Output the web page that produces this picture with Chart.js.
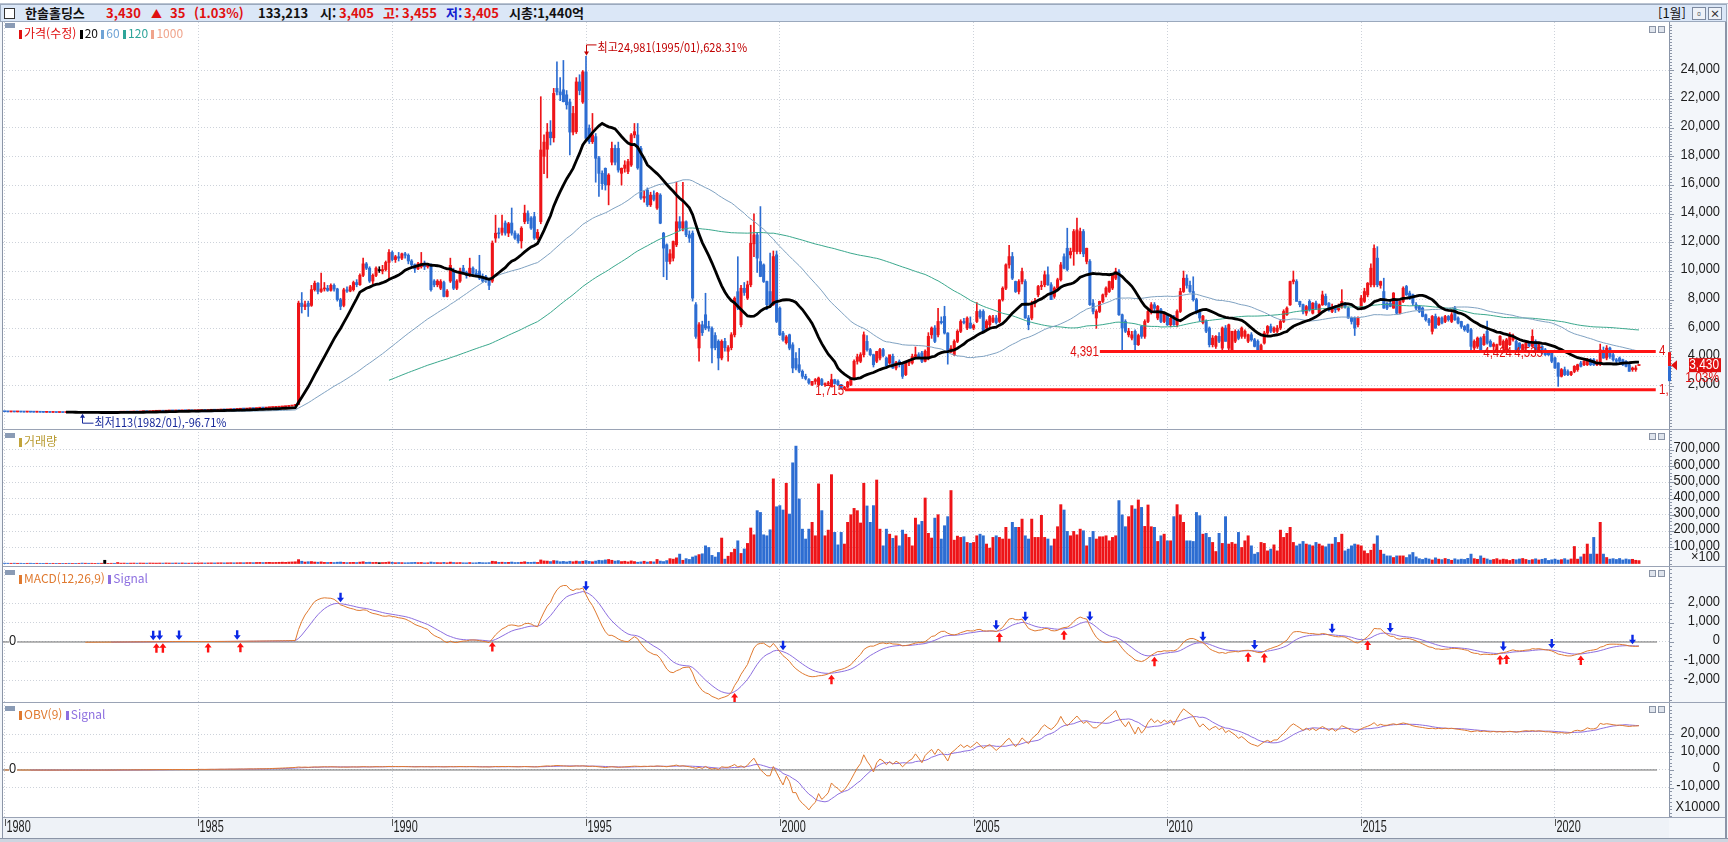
<!DOCTYPE html>
<html lang="ko"><head><meta charset="utf-8"><title>한솔홀딩스</title>
<script src="https://cdn.jsdelivr.net/npm/chart.js@4.4.1/dist/chart.umd.min.js"></script>
<style>
*{box-sizing:border-box}
html,body{margin:0;padding:0;width:1728px;height:842px;overflow:hidden;background:#f3f6fa;font-family:"Noto Sans CJK KR","Noto Sans",sans-serif;}
.a{position:absolute;white-space:nowrap;}
canvas{position:absolute;display:block;}
#tabs{left:0;top:0;width:1728px;height:4px;background:#fff;border-bottom:1px solid #b9c3d1;}
#hdr{left:0;top:4px;width:1727px;height:18px;background:#dbe7f7;border:1px solid #9ba9bd;}
.h{top:5px;font-size:13px;font-weight:bold;line-height:16px;color:#111;}
.lg{font-size:12px;line-height:14px;color:#111;}
.sw{display:inline-block;width:3px;height:9px;margin-right:2px;vertical-align:-1px;}
.ic{width:10px;height:5px;background:#8a9bb5;}
.hl{background:#9aa3b5;height:1px;left:2px;width:1724px;}
.vl{background:#8b95a7;width:1px;}
.btn{width:7px;height:7px;border:1px solid #8a94a6;background:#dfe4ec;}
.hb{width:14px;height:13px;border:1px solid #7d8aa0;background:#eef2f8;font-size:10px;line-height:11px;text-align:center;font-weight:bold;color:#333;}
</style></head><body>
<canvas id="cPrice" width="1723" height="407" style="left:3px;top:22px"></canvas>
<canvas id="cVol" width="1723" height="137" style="left:3px;top:429px"></canvas>
<canvas id="cMacd" width="1723" height="136" style="left:3px;top:566px"></canvas>
<canvas id="cObv" width="1723" height="136" style="left:3px;top:702px"></canvas>

<div id="tabs" class="a"></div>
<div id="hdr" class="a"></div>
<div class="a" style="left:4px;top:8px;width:11px;height:11px;border:1px solid #333;background:#fff"></div>
<div class="a h" style="left:25px">한솔홀딩스</div>
<div class="a h" style="left:106px;color:#e01010">3,430</div>
<div class="a h" style="left:151px;color:#e01010;font-size:11px">▲</div>
<div class="a h" style="left:170px;color:#e01010">35</div>
<div class="a h" style="left:194px;color:#e01010">(1.03%)</div>
<div class="a h" style="left:258px">133,213</div>
<div class="a h" style="left:320px">시:</div>
<div class="a h" style="left:339px;color:#e01010">3,405</div>
<div class="a h" style="left:383px;color:#e01010">고:</div>
<div class="a h" style="left:402px;color:#e01010">3,455</div>
<div class="a h" style="left:446px;color:#1020d0">저:</div>
<div class="a h" style="left:464px;color:#e01010">3,405</div>
<div class="a h" style="left:509px">시총:1,440억</div>
<div class="a h" style="left:1658px;font-weight:normal">[1월]</div>
<div class="a hb" style="left:1692px;top:7px">▫</div>
<div class="a hb" style="left:1708px;top:7px">×</div>

<!-- panel legends -->
<div class="a ic" style="left:5px;top:23px"></div>
<div class="a lg" style="left:19px;top:26px"><span class="sw" style="background:#e01010"></span><span style="color:#e01010">가격(수정)</span> <span class="sw" style="background:#000"></span><span>20</span> <span class="sw" style="background:#6fa3d6"></span><span style="color:#6fa3d6">60</span> <span class="sw" style="background:#2ea59a"></span><span style="color:#2ea59a">120</span> <span class="sw" style="background:#f0a48c"></span><span style="color:#f0a48c">1000</span></div>
<div class="a ic" style="left:5px;top:433px"></div>
<div class="a lg" style="left:19px;top:434px"><span class="sw" style="background:#c2a43a"></span><span style="color:#b89a30">거래량</span></div>
<div class="a ic" style="left:5px;top:570px"></div>
<div class="a lg" style="left:19px;top:571px"><span class="sw" style="background:#e07a30"></span><span style="color:#e07a30">MACD(12,26,9)</span> <span class="sw" style="background:#8d6fe0"></span><span style="color:#8d6fe0">Signal</span></div>
<div class="a ic" style="left:5px;top:706px"></div>
<div class="a lg" style="left:19px;top:707px"><span class="sw" style="background:#e07a30"></span><span style="color:#e07a30">OBV(9)</span> <span class="sw" style="background:#8d6fe0"></span><span style="color:#8d6fe0">Signal</span></div>

<div class="a btn" style="left:1649px;top:26px"></div><div class="a btn" style="left:1658px;top:26px"></div>
<div class="a btn" style="left:1649px;top:433px"></div><div class="a btn" style="left:1658px;top:433px"></div>
<div class="a btn" style="left:1649px;top:570px"></div><div class="a btn" style="left:1658px;top:570px"></div>
<div class="a btn" style="left:1649px;top:706px"></div><div class="a btn" style="left:1658px;top:706px"></div>

<div class="a hl" style="top:429px"></div>
<div class="a hl" style="top:566px"></div>
<div class="a hl" style="top:702px"></div>
<div class="a hl" style="top:817px"></div>
<div class="a" style="left:0;top:838px;width:1728px;height:4px;background:#cdd5e0;border-top:1px solid #8b95a7"></div>
<div class="a vl" style="left:2px;top:22px;height:816px"></div>
<div class="a vl" style="left:1725px;top:22px;height:816px;width:2px"></div>
<div id="warn" class="a" style="left:700px;top:300px;color:#f0f;font-size:20px"></div>

<script>
// ---------------- DATA (monthly, from 1980-01) ----------------
const startYear = 1980;
const yearTickIdx = [0, 60, 120, 180, 240, 300, 360, 420, 480];
const yearLabels = ['1980','1985','1990','1995','2000','2005','2010','2015','2020'];

// [open, high, low, close]  (adjusted price, won)
const ohlc1980s = [
 [182,186,178,180],[180,182,169,171],[171,178,170,176],[176,177,166,168],[168,172,166,170],[170,171,160,162],[162,164,156,158],[158,165,157,163],[163,164,152,154],[154,156,148,150],[150,154,149,152],[152,153,141,143],
 [143,144,137,139],[139,143,138,141],[141,142,132,134],[134,138,133,136],[136,137,127,129],[129,133,128,131],[131,132,123,125],[125,129,124,127],[127,128,119,121],[121,126,120,124],[124,125,115,117],[117,121,116,119],
 [119,120,113,113],[113,120,113,118],[118,119,114,116],[116,124,115,122],[122,128,121,126],[126,127,122,124],[124,133,123,131],[131,135,128,131],[131,139,130,137],[137,143,136,141],[141,142,137,139],[139,150,138,148],
 [148,153,147,151],[151,160,150,158],[158,159,153,155],[155,168,154,166],[166,173,165,171],[171,172,167,169],[169,186,168,184],[184,192,183,190],[190,191,184,186],[186,205,185,203],[203,213,202,211],[211,218,209,216],
 [216,225,215,223],[223,224,217,219],[219,237,218,235],[235,243,234,241],[241,242,236,238],[238,251,237,249],[249,250,244,246],[246,259,245,257],[257,258,249,251],[251,255,250,253],[253,254,247,249],[249,262,248,260],
 [260,265,259,263],[263,276,262,274],[274,275,269,271],[271,285,270,283],[283,291,282,289],[289,290,284,286],[286,303,285,301],[301,316,300,314],[314,315,307,309],[309,329,308,327],[327,344,326,342],[342,343,336,338],
 [338,357,337,355],[355,373,354,371],[371,372,366,368],[368,394,367,392],[392,407,391,405],[405,406,397,399],[399,430,398,428],[428,443,427,441],[441,442,435,437],[437,464,436,462],[462,481,461,479],[479,490,478,488],
 [488,499,487,497],[497,517,496,515],[515,536,514,534],[534,554,533,552],[552,581,551,579],[579,613,578,611],[611,692,610,690],[690,7900,680,7760],[7760,8500,7070,7520],[7520,7900,7300,7650],[7750,7900,6830,7530],[7600,9000,7530,8700],
 [8700,9300,8600,9150],[9150,9200,8400,8580],[8580,9850,8500,8750],[8750,9200,8600,8800],[8800,9000,8580,8650],[8650,9100,8600,9000],[9000,9100,8600,8750],[8750,8800,7900,8000],[8000,8100,7300,7530],[7600,8800,7500,8690],[8690,8900,8500,8600],[8600,9000,8550,8900],
 [8700,9300,8600,9200],[9200,9400,8900,9050],[9050,9800,9000,9700],[9700,10900,9600,10500],[10500,10600,10100,10200],[10200,10300,9200,9300],[9300,9800,9100,9700],[9700,10300,9600,10200],[10100,10300,9900,10100],[10000,10400,9800,10100],[10100,10700,10000,10600],[10600,11500,9400,11300]
];
const ohlc1990s = [
 [11300,11400,10700,10800],[10800,11100,10600,11000],[11000,11300,10700,10900],[10900,11250,10800,11200],[11200,11300,10900,11100],[11100,11200,10500,10700],[10700,10800,10200,10450],[10450,10500,9900,10150],[10150,10600,10100,10500],[10300,11300,10200,10550],[10550,10700,10100,10300],[10300,10500,10200,10400],
 [10400,10500,8600,8700],[9300,9400,8900,9040],[9040,9400,8900,9300],[8800,9400,8700,9270],[9200,9300,8200,8230],[8230,8700,8200,8600],[9300,10900,9200,10400],[10000,10200,8700,8800],[8800,9400,8700,9300],[9300,10200,9200,10000],[10200,10400,9800,9900],[9900,10000,9500,9700],
 [9700,10900,9600,10200],[10200,10300,9700,9850],[9850,10100,9600,9700],[10000,11100,9400,9500],[9500,9800,9200,9300],[9600,9700,9200,9350],[9350,9500,8700,9000],[9300,12100,9200,11950],[12300,13900,12000,12640],[12640,13000,12300,12600],[12700,13900,12500,13000],[13350,13500,12500,12650],
 [12650,13400,12400,13300],[13350,14400,12500,12650],[12650,12800,12200,12300],[12500,12600,11950,12100],[12100,13100,11600,12990],[13450,14600,13300,14040],[14040,14200,13300,13500],[13700,13800,12900,13000],[13800,14100,12200,12300],[12300,12900,12200,12700],[13450,22170,13300,18450],[18000,19500,16800,19000],
 [18500,20300,16500,19700],[19700,20500,18800,19300],[19300,22750,19000,22400],[22750,24600,22300,22500],[22500,23500,21900,22300],[22650,24700,21800,21820],[22300,22600,21300,21600],[21800,22000,18100,19700],[19700,21500,19500,21000],[19730,23500,19600,23200],[23200,23700,22300,22600],[21800,24000,21700,23900],
 [23900,24981,19200,19260],[19960,20200,18900,19030],[19030,21000,18900,19500],[19380,19600,16200,17870],[17900,18000,15200,16820],[16820,17000,15700,16100],[17170,17200,15650,16010],[16010,16800,14620,16700],[17600,19000,17400,18560],[18560,18800,17400,17600],[18560,19000,16900,17050],[16820,17200,16000,17170],
 [17170,17700,16900,17400],[16950,17800,16800,17640],[17400,19600,17300,19500],[19500,20300,19300,19730],[19500,20300,17100,17200],[18560,18700,15000,15100],[15100,15600,14800,15200],[15660,15800,14500,14620],[14620,15500,14500,15300],[15300,15600,14900,15000],[14400,15500,14300,15430],[15300,15400,13300,13340],
 [12640,12700,9600,11600],[11830,11900,9400,10670],[10670,11500,10500,11200],[10900,12100,10700,12060],[11830,16200,11700,13440],[13440,13800,12800,13000],[12990,16200,12800,13440],[13440,13500,12400,12530],[12530,12800,12000,12300],[12640,12800,7900,8110],[7650,7800,5300,5440],[4630,6400,3700,6250],
 [6250,6500,5500,5700],[6950,8450,5900,6020],[6130,6500,5800,6000],[6000,6100,3580,4630],[5500,5700,4500,4650],[5090,5200,3100,3930],[3930,5200,3800,5090],[5090,5300,4400,4650],[4400,4800,3700,4650],[4650,5700,4500,5550],[5550,8200,5400,8100],[8560,11000,7300,7410],
 [6250,9000,6100,8800],[8800,9200,8300,8500],[8110,9300,8000,9040],[9040,13200,8900,11940],[11900,14000,11000,12520],[12520,12700,9900,10900],[10660,14500,9600,9620],[10430,10500,9200,9270],[9270,9300,7300,7650],[8570,11250,7500,7650],[7650,11400,7600,11010],[11130,11400,6400,6480]
];
const ohlc2000s = [
 [7410,7500,5500,5550],[5670,5800,5100,5200],[5000,5500,4900,5400],[5550,5600,4500,4620],[4850,5000,2900,3230],[3900,4300,3100,3230],[3460,4600,2900,3000],[3000,3100,2500,2650],[2650,2800,2400,2500],[2420,2500,2100,2190],[2070,2300,2000,2300],[2300,2500,2100,2420],
 [2070,2600,2000,2530],[2420,2500,2000,2070],[2070,2200,1950,2100],[2100,2300,2000,2200],[1950,2800,1900,2420],[2420,2450,2100,2150],[2300,2400,2000,2070],[2070,2100,1750,1800],[1800,1950,1715,1900],[1900,2300,1850,2250],[2070,2500,2000,2530],[2530,3800,2500,3700],
 [3700,4200,3500,4000],[3700,4300,3600,4160],[4160,5750,4000,5550],[5090,5500,4400,4510],[4510,4600,4100,4160],[4160,4200,3300,3460],[3700,4400,3600,4390],[3930,4600,3800,4510],[4510,4600,4000,4100],[3930,4000,3200,3350],[3580,4100,3500,4160],[4040,4200,3200,3230],
 [3230,3700,3100,3600],[3700,3800,3300,3460],[3460,3500,2500,2650],[2770,3600,2700,3580],[3580,3800,3400,3700],[3580,4200,3500,4040],[4040,4700,3900,4160],[4160,4300,3900,4000],[4280,4400,3600,3700],[3700,4500,3650,4400],[3930,5700,3800,5440],[5550,6100,5300,6020],
 [6020,6200,5000,5090],[5550,7400,5400,6480],[6480,6800,6300,6400],[6830,7540,5600,5670],[5670,5700,3500,4390],[4390,4800,4300,4600],[4160,5200,4100,5090],[5090,5900,5000,5790],[5790,6600,5700,6480],[6480,6700,6300,6400],[6020,6800,5900,6710],[6370,6800,6000,6020],
 [6020,6300,5900,6200],[6480,7800,6400,7180],[7180,7300,6700,6800],[7180,7300,5700,5790],[6020,6600,5900,6480],[6250,6900,6100,6830],[6480,6900,6400,6720],[6720,6900,6300,6400],[6480,8000,6400,7990],[7990,8900,7900,8800],[8800,10500,8700,10430],[10430,11800,10200,11010],
 [11010,11300,9400,9500],[9270,9300,8500,8570],[8570,9400,8400,9270],[9270,10200,9100,9960],[9270,9400,6700,6720],[6720,6900,5900,6250],[6720,7900,6600,7760],[7760,8100,7500,7900],[8340,9000,8200,8920],[8920,9300,8700,9000],[9040,10000,8900,9740],[9740,10300,9000,9040],
 [9040,9200,8000,8000],[8230,8900,8100,8810],[8810,9500,8700,9390],[9390,10600,9300,10430],[11000,11200,10150,10200],[11590,12990,10000,10100],[11130,11600,10900,11360],[11360,12900,10400,12760],[11360,13690,11200,12870],[11360,13000,11200,12760],[12760,12900,11000,11200],[10670,11600,10500,11590],
 [10670,10800,7600,7650],[7760,8000,7000,7180],[6720,7300,6000,7180],[7180,7900,7100,7880],[7880,8400,7800,8340],[8340,8900,8200,8810],[8570,9300,8500,9270],[8810,9800,8700,9740],[9500,10200,9400,9970],[9970,10100,6900,6950],[6950,7000,4390,6020],[6480,6600,5700,5790],
 [5550,6000,5400,5800],[5320,5800,5200,5550],[5790,5900,4391,4860],[4860,5600,4800,5500],[6130,6200,5300,5440],[5440,6600,5300,6480],[6480,7400,6400,7180],[7180,7800,7000,7650],[7650,7800,7200,7400],[6720,7600,6600,7530],[7300,7400,6400,6480],[6480,7100,6400,7060]
];
const ohlc2010s = [
 [6950,7000,6200,6250],[6250,6800,6100,6700],[6830,6900,6200,6250],[6250,7300,6100,7180],[7180,8800,7100,8570],[8570,10000,8500,9500],[9500,9740,8800,9000],[9000,9300,8500,8570],[8570,9600,7900,8000],[8000,8100,7000,7180],[7180,7300,6500,6720],[6400,6900,6300,6850],
 [6480,6600,5700,5800],[6020,6100,4700,4860],[4860,5500,4700,5320],[4740,5500,4600,5440],[5440,5700,5000,5100],[4620,6100,4500,6020],[6020,6200,5100,5090],[4620,6300,4400,6250],[4390,5800,4390,5800],[5100,5900,5000,5790],[5790,5900,5200,5300],[5440,6100,5300,6020],
 [5440,5900,5300,5800],[5100,5600,5000,5550],[5550,5700,5100,5200],[5200,5300,4700,4740],[5090,5200,4400,4510],[4510,4900,4391,4800],[4970,5800,4900,5670],[5670,6200,5500,6130],[6130,6300,5700,5800],[5790,6100,5700,6020],[5790,6200,5700,6020],[6020,6600,5900,6480],
 [6480,7300,6400,7180],[6950,7500,6900,7410],[7640,9300,7600,9270],[9270,10000,9100,9380],[9270,9400,7900,7880],[7880,7900,7500,7650],[7650,7700,7000,7180],[7060,7600,6900,7520],[7880,8000,7200,7300],[7060,7800,7000,7760],[7760,7900,7300,7400],[7060,7700,6900,7640],
 [7640,8600,7600,8340],[8230,8400,7600,7650],[7760,7800,7200,7300],[7180,7700,7100,7410],[7410,7600,7100,7300],[7300,7700,7200,7530],[7530,8700,7400,7880],[7650,7800,7400,7530],[7410,7500,6700,6720],[6720,6800,6300,6480],[6720,6800,5500,6020],[6250,6800,6100,6710],
 [7400,8300,7300,8110],[7880,8800,7800,8570],[8340,9200,8200,9150],[9040,10500,8900,10200],[9040,11830,8900,11590],[10900,11700,8900,9040],[9000,9300,8800,9270],[8570,9500,7400,7410],[7760,7800,7300,7410],[7760,7900,7500,7530],[7410,8500,7400,8460],[7880,8000,7000,7060],
 [7060,7900,7000,7880],[7880,8900,7800,8800],[8920,9000,8300,8340],[8460,8600,8000,8110],[8340,8400,7600,7760],[7650,7800,7300,7410],[7530,7600,7100,7180],[7410,7500,6800,6830],[6950,7000,6500,6600],[6600,6700,6200,6400],[5790,6900,5600,6830],[6830,7000,6000,6020],
 [6250,6800,6200,6720],[6720,6800,6300,6370],[6480,6900,6400,6830],[6830,6900,6500,6600],[6480,7100,6400,6950],[7410,7530,6550,6600],[6720,6800,6300,6370],[6480,6500,6000,6130],[6130,6200,5800,5900],[6250,6300,5700,5790],[5900,6000,4500,4740],[4630,5200,4500,5090],
 [4740,5400,4600,5320],[5320,5400,4500,4510],[4860,5600,4800,5440],[5790,6500,4900,4970],[5090,5200,4700,4740],[4740,5000,4500,4900],[4510,4900,4400,4860],[4860,5500,4800,5440],[4630,5200,4500,5090],[4510,5300,4400,5200],[4860,5700,4800,5550],[5200,5600,5100,5440],
 [5090,5200,4380,4390],[4970,5000,4500,4620],[4390,4900,4300,4860],[4620,5100,4500,4970],[4970,5100,4700,4800],[4740,5900,4700,5440],[5090,5200,4400,4510],[4510,4900,4400,4860],[4740,4800,4200,4280],[4500,4600,4100,4160],[4390,4400,4100,4160],[4280,4350,3600,3700]
];
const ohlc2020s = [
 [3930,4000,3200,3230],[3580,3600,1950,2650],[2650,3200,2600,3120],[3120,3300,2700,2770],[2990,3100,2700,2770],[2770,3000,2700,2950],[2990,3400,2900,3350],[3120,3500,3000,3460],[3580,3700,3300,3350],[3460,3750,3400,3700],[3460,3900,3400,3800],[3810,3900,3400,3460],
 [3810,3900,3400,3460],[3460,3800,3400,3580],[3460,4900,3400,4500],[4280,4700,3900,3930],[3930,4800,3800,4620],[4620,4700,3900,4040],[4160,4300,3700,3810],[3810,3900,3600,3700],[3930,4000,3600,3700],[3810,3850,3400,3460],[3700,3750,3300,3350],[3460,3500,3000,3000],
 [3120,3300,3000,3230],[3120,3400,3000,3230],[3405,3455,3405,3430]
];

// volume (axis units, x100 shares)
const vol1980s = [
 2100,1800,1500,1900,1300,1600,1200,1400,1700,1100,1500,1300,
 1200,1500,1000,1300,1100,900,1200,1000,1400,800,1100,1300,
 2500,1800,1400,1600,1200,1500,1700,20000,1100,1600,1400,6000,
 2200,2600,1900,2400,2800,2100,3000,2500,2300,3100,2700,2400,
 2900,2500,3300,2800,2600,3100,2700,3400,2500,2300,2900,3200,
 3300,3800,3100,3600,4000,3500,4200,4600,3900,4400,5000,4300,
 4800,5300,4700,5600,6000,5200,6400,6900,5800,6600,7200,6100,
 6800,7500,8200,7100,8800,9500,10500,24000,14000,9000,11000,12000,
 9000,8000,10000,7000,6500,7500,6000,8000,9000,7000,5500,6500,
 7000,6000,8500,11000,7000,8000,6500,7500,5000,6000,7000,9500
];
const vol1990s = [
 7500,5000,6000,5500,4500,5000,6000,7000,5500,6500,4000,4500,
 9000,6000,5500,5000,7000,4500,8500,6000,5000,6000,4500,4000,
 6000,4000,4500,7000,5000,4500,5500,14000,12000,7000,8000,6500,
 7000,9000,6000,6500,8000,11000,7500,7000,8500,6500,22000,16000,
 15000,12000,18000,16000,11000,13000,10000,14000,11000,15000,12000,14000,
 18000,13000,11000,15000,20000,18000,22000,25000,20000,15000,18000,12000,
 14000,10000,16000,12000,8000,10000,14000,9000,12000,10000,25000,15000,
 12000,18000,30000,27000,35000,58000,20000,30000,25000,40000,47000,55000,
 60000,109000,99000,50000,40000,68000,157000,27000,45000,68000,89000,140000,
 62000,90000,124000,219000,177000,326000,315000,177000,171000,208000,522000,350000
];
const vol2000s = [
 357000,330000,495000,305000,621000,724000,398000,212000,151000,212000,254000,171000,
 491000,326000,171000,206000,548000,192000,115000,192000,120000,254000,301000,340000,
 326000,250000,495000,355000,254000,357000,515000,212000,109000,212000,181000,155000,
 171000,109000,206000,181000,161000,109000,280000,239000,260000,404000,186000,157000,
 280000,301000,151000,233000,289000,450000,144000,169000,161000,165000,130000,125000,
 130000,171000,181000,171000,120000,95000,161000,171000,161000,151000,223000,151000,
 254000,223000,223000,274000,171000,151000,274000,161000,161000,297000,161000,151000,
 109000,151000,227000,363000,330000,198000,171000,198000,177000,212000,202000,109000,
 161000,198000,151000,165000,165000,171000,140000,161000,171000,388000,300000,227000,
 289000,357000,336000,392000,346000,229000,361000,227000,223000,136000,171000,181000
];
const vol2010s = [
 140000,140000,289000,363000,300000,254000,140000,140000,136000,315000,295000,181000,
 186000,161000,130000,74000,186000,124000,289000,120000,130000,120000,192000,99000,
 140000,171000,109000,58000,68000,130000,124000,78000,89000,115000,78000,206000,
 161000,186000,223000,130000,109000,120000,136000,120000,115000,109000,130000,120000,
 109000,103000,120000,120000,161000,130000,181000,78000,89000,109000,120000,115000,
 109000,78000,62000,82000,120000,171000,82000,58000,47000,47000,37000,47000,
 47000,47000,37000,54000,68000,41000,30000,25000,33000,28000,22000,35000,
 27000,24000,31000,26000,20000,29000,23000,27000,25000,32000,58000,30000,
 26000,47000,33000,28000,21000,25000,30000,22000,27000,24000,19000,26000,
 23000,28000,31000,25000,20000,24000,29000,22000,26000,31000,19000,23000
];
const vol2020s = [
 27000,21000,24000,30000,22000,28000,105000,27000,41000,58000,120000,58000,
 161000,58000,254000,58000,37000,27000,30000,25000,31000,22000,28000,24000,
 26000,20000,18000
];

// MACD signal arrows (month index)
const macdSellIdx = [46,48,54,72,104,180,241,307,316,336,371,387,411,429,464,479,504];
const macdBuyIdx  = [47,49,63,73,151,226,256,308,328,356,385,390,422,463,465,488];

// horizontal support lines and labels
const supportLines = [ {value:1715, from:260.2, label:'1,715'}, {value:4391, from:339.1, label:'4,391'} ];
const highPoint = {idx:180, value:24981, text:'최고24,981(1995/01),628.31%'};
const lowPoint  = {idx:24,  value:113,   text:'최저113(1982/01),-96.71%'};
const lastPrice = {value:3430, text:'3,430', pct:'1.03%'};

// ---------------- BUILD ----------------
const ohlc = [].concat(ohlc1980s, ohlc1990s, ohlc2000s, ohlc2010s, ohlc2020s);
const volume = [].concat(vol1980s, vol1990s, vol2000s, vol2010s, vol2020s);
const N = ohlc.length;
const warn = [];
if (ohlc1980s.length!==120) warn.push('80s '+ohlc1980s.length);
if (ohlc1990s.length!==120) warn.push('90s '+ohlc1990s.length);
if (ohlc2000s.length!==120) warn.push('00s '+ohlc2000s.length);
if (ohlc2010s.length!==120) warn.push('10s '+ohlc2010s.length);
if (volume.length!==N) warn.push('vol '+volume.length+' vs '+N);
document.getElementById('warn').textContent = warn.join(' | ');

const idx = Array.from({length:N},(_,i)=>i);
const O = ohlc.map(c=>c[0]), H = ohlc.map(c=>c[1]), L = ohlc.map(c=>c[2]), C = ohlc.map(c=>c[3]);
const RED = '#ee1418', BLUE = '#2d6dd2';
const col = idx.map(i => C[i]>O[i] ? RED : (C[i]<O[i] ? BLUE : '#000'));

function sma(a,n,start){ const out=[]; let s=0; for(let i=0;i<a.length;i++){ s+=a[i]; if(i>=n) s-=a[i-n]; out.push(i>=n-1 && i>=(start||0) ? s/n : null);} return out; }
function ema(a,n){ const k=2/(n+1); const out=[]; let e=a[0]; for(let i=0;i<a.length;i++){ e = i===0 ? a[0] : a[i]*k + e*(1-k); out.push(e);} return out; }
const ma20 = sma(C,20), ma60 = sma(C,60), ma120 = sma(C,120);
const e12 = ema(C,12), e26 = ema(C,26);
const macdRaw = idx.map(i => e12[i]-e26[i]);
const sigRaw = ema(macdRaw,9);
const macd = idx.map(i => i>=25 ? macdRaw[i] : null);
const sig = idx.map(i => i>=33 ? sigRaw[i] : null);
const obv = []; for (let i=0;i<N;i++){ if(i===0){obv.push(0);continue;} const d = C[i]>C[i-1]?1:(C[i]<C[i-1]?-1:0); obv.push(obv[i-1] + d*volume[i]/100); }
const obvSig = sma(obv,9);

const X_MIN = -0.5, X_MAX = 515.3;
const pts = (arr) => idx.map(i => ({x:i, y:arr[i]}));

function narrow(ctx, txt, x, y, align, sx){ ctx.save(); ctx.translate(x,y); ctx.scale(sx,1); ctx.textAlign=align; ctx.fillText(txt,0,0); ctx.restore(); }
const fmt = v => v.toLocaleString('en-US');

function deco(y, extra){ return {
  id:'deco',
  beforeDraw(chart){ const {ctx, chartArea:a} = chart; ctx.save(); ctx.fillStyle='#f3f6fa'; ctx.fillRect(0,0,chart.width,chart.height); ctx.fillStyle='#ffffff'; ctx.fillRect(a.left,a.top,a.right-a.left,a.bottom-a.top); ctx.restore(); },
  afterDraw(chart){
    const {ctx, chartArea:a} = chart; const ys = chart.scales.y;
    ctx.save();
    ctx.strokeStyle='#8a95a8'; ctx.lineWidth=1;
    ctx.beginPath(); ctx.moveTo(a.right+0.5,a.top); ctx.lineTo(a.right+0.5,a.bottom); ctx.stroke();
    ctx.strokeStyle='#8c96a8';
    for (let v=Math.ceil(y.min/y.minor)*y.minor; v<=y.max; v+=y.minor){ const py=Math.round(ys.getPixelForValue(v))+0.5; ctx.beginPath(); ctx.moveTo(a.right,py); ctx.lineTo(a.right+3,py); ctx.stroke(); }
    for (const v of y.ticks){ const py=Math.round(ys.getPixelForValue(v))+0.5; ctx.beginPath(); ctx.moveTo(a.right,py); ctx.lineTo(a.right+5,py); ctx.stroke(); }
    ctx.fillStyle='#1e1e1e'; ctx.font='14px "Liberation Sans"'; ctx.textBaseline='middle';
    for (const v of y.ticks){ narrow(ctx, fmt(v), 1717, ys.getPixelForValue(v)-1.5, 'right', 0.92); }
    if (extra) extra(chart, ctx, a, chart.scales.x, ys);
    ctx.restore();
  }
};}

function makeChart(id, datasets, y, extra, padBottom){
  return new Chart(document.getElementById(id).getContext('2d'), {
    type:'bar',
    data:{datasets},
    options:{
      responsive:false, animation:false, devicePixelRatio:1, events:[],
      layout:{padding:{left:0,right:0,top:0,bottom:padBottom||0}, autoPadding:false},
      plugins:{legend:{display:false}, tooltip:{enabled:false}},
      scales:{
        x:{type:'linear', min:X_MIN, max:X_MAX, offset:false, display:true,
           afterBuildTicks:s=>{ s.ticks = yearTickIdx.map(v=>({value:v})); },
           ticks:{display:false}, grid:{color:'#cdd2da', drawTicks:false, offset:false, lineWidth:1},
           border:{display:false, dash:[1,2]}, afterFit:s=>{ s.height=0; }},
        y:{type:'linear', position:'right', min:y.min, max:y.max, display:true,
           afterBuildTicks:s=>{ s.ticks = y.ticks.map(v=>({value:v})); },
           ticks:{display:false}, grid:{color:'#cdd2da', drawTicks:false, lineWidth:1},
           border:{display:false, dash:[1,2]}, afterFit:s=>{ s.width=57; }}
      }
    },
    plugins:[deco(y, extra)]
  });
}

// ---- price panel
const priceAxis = {min:-1026, max:27383, ticks:[2000,4000,6000,8000,10000,12000,14000,16000,18000,20000,22000,24000], minor:200};
const priceSets = [
  {type:'bar', data: idx.map(i=>({x:i, y:[L[i],H[i]]})), backgroundColor: col, barThickness:1, grouped:false, order:10},
  {type:'bar', data: idx.map(i=>({x:i, y:[O[i],C[i]]})), backgroundColor: col, barThickness:2.4, minBarLength:1, grouped:false, order:9},
  {type:'line', data: pts(ma120), borderColor:'#3aa88d', borderWidth:1, pointRadius:0, tension:0, order:5},
  {type:'line', data: pts(ma60), borderColor:'#7fa2c2', borderWidth:1, pointRadius:0, tension:0, order:4},
  {type:'line', data: pts(ma20), borderColor:'#000000', borderWidth:2.8, pointRadius:0, tension:0, order:3},
];
supportLines.forEach(s => priceSets.push({type:'line', data:[{x:s.from,y:s.value},{x:511.2,y:s.value}], borderColor:'#ff1414', borderWidth:3, pointRadius:0, order:1}));

makeChart('cPrice', priceSets, priceAxis, (chart, ctx, a, xs, ys) => {
  ctx.fillStyle='#e01010'; ctx.font='14px "Liberation Sans"'; ctx.textBaseline='middle';
  supportLines.forEach(s => {
    const px = xs.getPixelForValue(s.from), py = ys.getPixelForValue(s.value);
    narrow(ctx, s.label, px-1, py+1, 'right', 0.82);
    narrow(ctx, s.value===4391?'4':'1,', 1656, py, 'left', 0.82);
  });
  const py4 = ys.getPixelForValue(4391);
  narrow(ctx, '4,424', 1509, py4+1.5, 'right', 0.82);
  narrow(ctx, '4,535', 1540, py4+1.5, 'right', 0.82);
  // high annotation
  let hx = Math.round(xs.getPixelForValue(highPoint.idx))+0.5, hy = ys.getPixelForValue(highPoint.value);
  ctx.strokeStyle='#c00000'; ctx.fillStyle='#c00000'; ctx.lineWidth=1;
  ctx.beginPath(); ctx.moveTo(hx+10, hy-11.5); ctx.lineTo(hx, hy-11.5); ctx.lineTo(hx, hy-4); ctx.stroke();
  ctx.beginPath(); ctx.moveTo(hx-2.5, hy-5); ctx.lineTo(hx+2.5, hy-5); ctx.lineTo(hx, hy-1); ctx.closePath(); ctx.fill();
  ctx.font='12px "Noto Sans CJK KR"'; narrow(ctx, highPoint.text, hx+11, hy-9, 'left', 0.92);
  // low annotation
  let lx = Math.round(xs.getPixelForValue(lowPoint.idx))+0.5, ly = ys.getPixelForValue(lowPoint.value);
  ctx.strokeStyle='#16289a'; ctx.fillStyle='#16289a';
  ctx.beginPath(); ctx.moveTo(lx, ly+3); ctx.lineTo(lx, ly+10.5); ctx.lineTo(lx+11, ly+10.5); ctx.stroke();
  ctx.beginPath(); ctx.moveTo(lx-2.5, ly+5); ctx.lineTo(lx+2.5, ly+5); ctx.lineTo(lx, ly+1); ctx.closePath(); ctx.fill();
  narrow(ctx, lowPoint.text, lx+12, ly+10, 'left', 0.92);
  // last price marker on axis
  const yc = ys.getPixelForValue(lastPrice.value);
  ctx.fillStyle = RED; ctx.fillRect(a.right-1, yc-13, 3, 14); ctx.fillStyle = BLUE; ctx.fillRect(a.right-1, yc+1, 3, 15);
  ctx.fillStyle = '#e01010';
  ctx.beginPath(); ctx.moveTo(a.right+2, yc); ctx.lineTo(a.right+8, yc-5); ctx.lineTo(a.right+8, yc+5); ctx.closePath(); ctx.fill();
  ctx.fillRect(1686, yc-7, 32, 14);
  ctx.fillStyle='#ffffff'; ctx.font='14px "Liberation Sans"'; narrow(ctx, lastPrice.text, 1716, yc, 'right', 0.85);
  ctx.fillStyle='#e01010'; narrow(ctx, lastPrice.pct, 1716, yc+13, 'right', 0.85);
});

// ---- volume panel
const volAxis = {min:-15400, max:829500, ticks:[100000,200000,300000,400000,500000,600000,700000], minor:20000};
makeChart('cVol', [
  {type:'bar', data: idx.map(i=>({x:i, y:volume[i]})), backgroundColor: col, barThickness:2.3, grouped:false}
], volAxis, (chart, ctx, a, xs, ys) => {
  ctx.fillStyle='#1e1e1e'; ctx.font='14px "Liberation Sans"';
  narrow(ctx, '×100', 1717, 128, 'right', 0.92);
});

// ---- MACD panel
const macdAxis = {min:-3117, max:3948, ticks:[-2000,-1000,0,1000,2000], minor:200};
function arrow(ctx, x, y, down, color){
  ctx.fillStyle = color; ctx.beginPath();
  if (down){ ctx.moveTo(x,y); ctx.lineTo(x-3.5,y-4.5); ctx.lineTo(x-1.2,y-4.5); ctx.lineTo(x-1.2,y-9.5); ctx.lineTo(x+1.2,y-9.5); ctx.lineTo(x+1.2,y-4.5); ctx.lineTo(x+3.5,y-4.5); }
  else { ctx.moveTo(x,y); ctx.lineTo(x-3.5,y+4.5); ctx.lineTo(x-1.2,y+4.5); ctx.lineTo(x-1.2,y+9.5); ctx.lineTo(x+1.2,y+9.5); ctx.lineTo(x+1.2,y+4.5); ctx.lineTo(x+3.5,y+4.5); }
  ctx.closePath(); ctx.fill();
}
makeChart('cMacd', [
  {type:'line', data:[{x:X_MIN,y:0},{x:511.6,y:0}], borderColor:'#6c6c6c', borderWidth:1, pointRadius:0, order:5},
  {type:'line', data: pts(sig), borderColor:'#8d6fe0', borderWidth:1, pointRadius:0, tension:0, order:2},
  {type:'line', data: pts(macd), borderColor:'#e07a30', borderWidth:1, pointRadius:0, tension:0, order:1},
], macdAxis, (chart, ctx, a, xs, ys) => {
  const z = ys.getPixelForValue(0);
  ctx.fillStyle='#ffffff'; ctx.fillRect(6, z-6, 8, 12);
  ctx.fillStyle='#1e1e1e'; ctx.font='14px "Liberation Sans"'; narrow(ctx, '0', 6, z-0.5, 'left', 0.92);
  macdSellIdx.forEach(i => { const v = Math.max(macdRaw[i], sigRaw[i]); arrow(ctx, xs.getPixelForValue(i), ys.getPixelForValue(v)-1.5, true, '#0a28e6'); });
  macdBuyIdx.forEach(i => { const v = Math.min(macdRaw[i], sigRaw[i]); arrow(ctx, xs.getPixelForValue(i), ys.getPixelForValue(v)+1.5, false, '#ff1010'); });
});

// ---- OBV panel
const obvAxis = {min:-26460, max:38280, ticks:[-10000,0,10000,20000], minor:2000};
makeChart('cObv', [
  {type:'line', data:[{x:X_MIN,y:0},{x:511.6,y:0}], borderColor:'#6c6c6c', borderWidth:1, pointRadius:0, order:5},
  {type:'line', data: pts(obvSig), borderColor:'#8d6fe0', borderWidth:1, pointRadius:0, tension:0, order:2},
  {type:'line', data: pts(obv), borderColor:'#e07a30', borderWidth:1, pointRadius:0, tension:0, order:1},
], obvAxis, (chart, ctx, a, xs, ys) => {
  const z = ys.getPixelForValue(0);
  ctx.fillStyle='#ffffff'; ctx.fillRect(6, z-6, 8, 12);
  ctx.fillStyle='#1e1e1e'; ctx.font='14px "Liberation Sans"'; narrow(ctx, '0', 6, z-0.5, 'left', 0.92);
  narrow(ctx, 'X10000', 1717, 105, 'right', 0.92);
  // x axis (years)
  ctx.fillStyle='#eef2f7'; ctx.fillRect(0, a.bottom+1, a.right, chart.height-a.bottom-1);
  ctx.strokeStyle='#555'; ctx.fillStyle='#1e1e1e'; ctx.font='16px "Liberation Sans"'; ctx.textBaseline='middle';
  yearTickIdx.forEach((v,k) => {
    const px = Math.round(xs.getPixelForValue(v))+0.5;
    ctx.beginPath(); ctx.moveTo(px, a.bottom+2); ctx.lineTo(px, a.bottom+9); ctx.stroke();
    narrow(ctx, yearLabels[k], px+1, a.bottom+11, 'left', 0.68);
  });
}, 21);
</script>
</body></html>
